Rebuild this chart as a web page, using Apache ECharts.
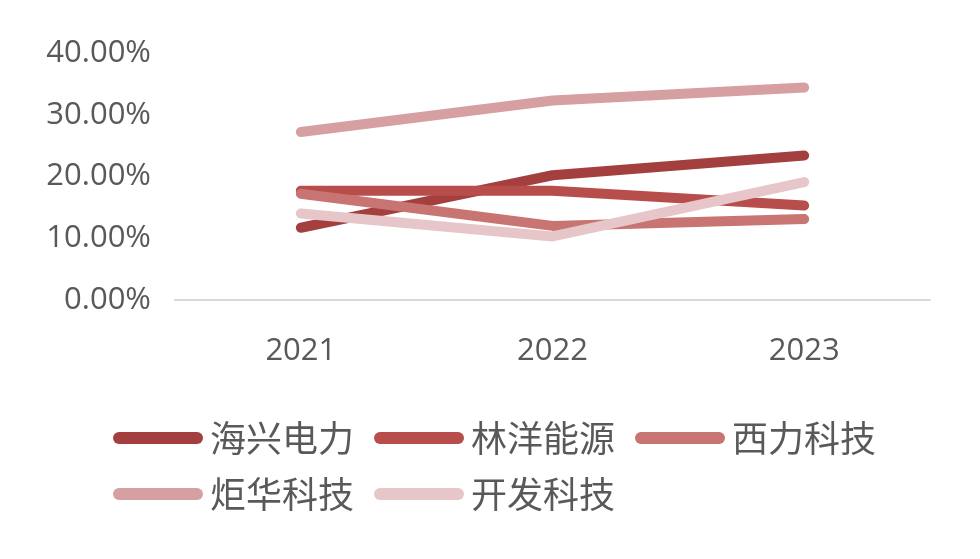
<!DOCTYPE html>
<html><head><meta charset="utf-8">
<script src="https://cdn.jsdelivr.net/npm/echarts@6/dist/echarts.min.js"></script>
<style>html,body{margin:0;padding:0;background:#fff}#c{width:980px;height:559px}</style>
</head><body><div id="c"></div>
<script>
const years = ['2021','2022','2023'];
const seriesNames = ['海兴电力','林洋能源','西力科技','炬华科技','开发科技'];
const haixing = [11.7, 20.2, 23.4];
const linyang = [17.7, 17.7, 15.3];
const xili = [17.2, 12.0, 13.1];
const juhua = [27.2, 32.3, 34.4];
const kaifa = [14.0, 10.3, 19.1];
const yTicks = [0, 10, 20, 30, 40];
const colors = ['#A3403F','#B84E4C','#C87472','#D6A0A3','#E7C6C9'];
const values = [haixing, linyang, xili, juhua, kaifa];

const chart = echarts.init(document.getElementById('c'));
chart.setOption({
  animation: false,
  grid: {left: 175, right: 50, top: 53, bottom: 259},
  xAxis: {
    type: 'category', data: years, boundaryGap: true,
    axisLine: {lineStyle: {color: '#D9D9D9', width: 2}},
    axisTick: {show: false},
    axisLabel: {color: '#595959', fontSize: 31, margin: 36, fontFamily: 'Open Sans'}
  },
  yAxis: {
    type: 'value', min: yTicks[0], max: yTicks[yTicks.length-1], interval: 10,
    axisLine: {show: false}, axisTick: {show: false},
    splitLine: {show: false},
    axisLabel: {color: '#595959', fontSize: 31, margin: 24, fontFamily: 'Open Sans',
      formatter: v => v.toFixed(2) + '%'}
  },
  legend: {
    left: 108, top: 415, width: 820,
    itemWidth: 90, itemHeight: 12, itemGap: 20,
    icon: 'path://M6,0 H84 A6,6 0 0 1 84,12 H6 A6,6 0 0 1 6,0 Z',
    textStyle: {color: '#595959', fontSize: 36, lineHeight: 36, fontFamily: 'Noto Sans CJK SC', padding: [0,0,0,2]},
    data: seriesNames
  },
  series: seriesNames.map((n, i) => ({
    name: n, type: 'line', data: values[i],
    symbol: 'none',
    lineStyle: {width: 10, color: colors[i], cap: 'round', join: 'round'},
    itemStyle: {color: colors[i]}
  }))
});
</script></body></html>
